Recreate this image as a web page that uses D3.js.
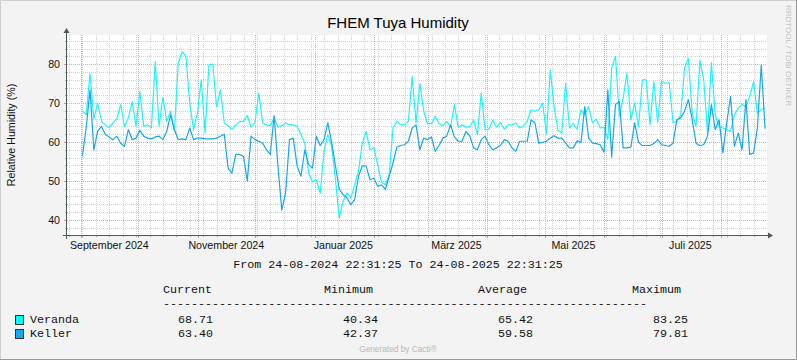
<!DOCTYPE html>
<html>
<head>
<meta charset="utf-8">
<script src="https://cdn.jsdelivr.net/npm/d3@7/dist/d3.min.js"></script>
<style>
  html, body { margin: 0; padding: 0; background: #f3f3f3; }
  svg { display: block; }
</style>
</head>
<body>
<svg id="chart" width="797" height="360"></svg>
<script>
// sampled every 2 days starting at 24-08-2024 22:31:25
const startTime = Date.UTC(2024, 7, 24, 22, 31, 25);
const endTime = Date.UTC(2025, 7, 24, 22, 31, 25);
const stepDays = 2;

const veranda = [null, null, null, null, 68, 67, 77.5, 66, 70, 65.3, 64.4, 63.6, 64.9, 66, 69.6, 64, 66.2, 70.4, 64, 73,
  64, 64.4, 63.6, 80.7, 64, 71.5, 65.3, 67.9, 62.7, 80.3, 83.2, 82.1, 70, 63.2, 67.4, 76, 62.3, 79.8, 80, 69,
  73.4, 64.9, 64.2, 63.2, 64.4, 65.3, 65.3, 66.8, 63.8, 64.9, 72.6, 64.9, 64.4, 64.2, 66.2, 63.8, 64.2, 64.9, 64.4, 64.4,
  64, 61.9, 59.7, 52, 49.7, 50.3, 46.8, 57.6, 61.9, 58.9, 50.3, 40.5, 44.8, 46.9, 45.6, 49, 52.5, 59.7, 62.7, 58,
  58.5, 54.2, 49.7, 49, 51.6, 63.6, 65.3, 64.4, 64.4, 65.3, 76.8, 64.9, 75, 67.9, 64.7, 64.7, 66.6, 64.7, 64.2, 65.3,
  63.8, 69.6, 63.8, 64.4, 63.8, 63.8, 65.7, 61.9, 72.6, 63.2, 63.2, 65.6, 63.8, 65, 63.3, 64.4, 64.4, 64.9, 63.6, 64.2,
  65.3, 68.3, 67.9, 68.3, 70, 62.1, 78.5, 69.1, 63, 62.3, 75.1, 63.6, 64.7, 63.3, 68.3, 67, 69.1, 64.9, 65.9, 63.6,
  63.8, 60.6, 79, 82.1, 66.6, 71.3, 77.7, 65.7, 70, 63.8, 76, 76, 64.4, 75.6, 65, 75.6, 75.1, 75.3, 65, 65.3,
  67, 79, 81.5, 67.4, 64, 80.9, 76, 62.3, 80.4, 67, 64, 63.6, 63.2, 62.7, 67, 68.7, 69.6, 69.1, 71.7, 75.5,
  67.4, 68.3, 68.7];

const keller = [null, null, null, null, 56.3, 63.6, 73.4, 58, 62.8, 64, 61.9, 61.3, 60.6, 61.5, 59.7, 58.9, 63.2, 60.6, 61, 63,
  61.5, 61, 60.8, 61.3, 61.5, 60.6, 62.7, 67, 63.2, 60.6, 60.8, 60.6, 63.6, 60.6, 61, 61, 60.8, 60.8, 60.8, 61,
  61.5, 62, 53.3, 52, 56.8, 56.8, 56.3, 50, 61.5, 60.6, 60.2, 59.7, 58, 56.8, 66.8, 53.8, 42.5, 47, 60.6, 61,
  53.8, 51.2, 58, 54.2, 53.3, 61.5, 59.1, 60.6, 64.9, 59.9, 53.8, 47.8, 46.5, 45.6, 43.9, 45.2, 51.2, 53.9, 53.8, 50.3,
  50.7, 48.6, 49, 47.8, 51.2, 54.6, 58.7, 59.1, 59.3, 60.2, 63.6, 64.4, 58, 61, 60.6, 61.3, 57.6, 59.1, 61, 61.5,
  64.4, 61.3, 60.2, 60.2, 62.7, 61.6, 58.5, 58, 60.6, 61.5, 59.3, 58, 58.5, 59.1, 60.6, 60.2, 58.5, 57.6, 60.2, 60.2,
  60.2, 65.7, 64.9, 59.7, 59.9, 60.2, 61, 61.6, 61, 61, 59.7, 58.5, 58.5, 60.3, 59.9, 69.1, 61, 59.7, 59.6, 59.3,
  57.4, 73.4, 56.1, 69.6, 70.4, 58.5, 58.5, 58.7, 64.9, 59.9, 59.1, 59.1, 59.1, 59.6, 60.6, 59.3, 59.1, 58.9, 59.7, 65.7,
  66.2, 67.9, 70.9, 65.7, 59.7, 59.1, 59.3, 61.5, 69.6, 63.2, 65.7, 57.2, 64.9, 71.7, 58.9, 62.3, 58, 70.9, 56.8, 57.2,
  63.6, 79.8, 63.4];

const yTicks = [40, 50, 60, 70, 80];
const monthLabels = ["2024-09-01", "2024-11-01", "2025-01-01", "2025-03-01", "2025-05-01", "2025-07-01"];
const monthTexts = ["September 2024", "November 2024", "Januar 2025", "März 2025", "Mai 2025", "Juli 2025"];

const legendNames = ["Veranda", "Keller"];
const legendColors = ["#00ffff", "#19a8ee"];
const lineColors = ["#1ff3ff", "#18a6ec"];
const current = ["68.71", "63.40"];
const minimum = ["40.34", "42.37"];
const average = ["65.42", "59.58"];
const maximum = ["83.25", "79.81"];

const W = 797, H = 360;
const plot = { left: 67, right: 767, top: 35, bottom: 235 };
const sans = "'Liberation Sans', Arial, sans-serif";
const mono = "'Liberation Mono', 'Courier New', monospace";

const svg = d3.select("#chart");

// background + shaded border
svg.append("rect").attr("width", W).attr("height", H).attr("fill", "#f3f3f3");
svg.append("path").attr("d", `M0.5,${H} V0.5 H${W}`).attr("fill", "none").attr("stroke", "#cfcfcf");
svg.append("path").attr("d", `M0,${H - 0.5} H${W - 0.5} V0`).attr("fill", "none").attr("stroke", "#9a9a9a");

svg.append("rect")
  .attr("x", plot.left).attr("y", plot.top)
  .attr("width", plot.right - plot.left).attr("height", plot.bottom - plot.top)
  .attr("fill", "#ffffff");

const x = d3.scaleUtc().domain([startTime, endTime]).range([plot.left, plot.right]);
const y = d3.scaleLinear().domain([36.1, 87.5]).range([plot.bottom, plot.top]);

const grid = svg.append("g").attr("shape-rendering", "crispEdges");
const minorColor = "#d2d2d2";
const majorColor = "#eaa6a6";

// horizontal grid: minor every 2, major every 10
d3.range(38, 88, 2).filter(v => v % 10 !== 0).forEach(v => {
  grid.append("line")
    .attr("x1", plot.left).attr("x2", plot.right)
    .attr("y1", Math.round(y(v)) + 0.5).attr("y2", Math.round(y(v)) + 0.5)
    .attr("stroke", minorColor).attr("stroke-dasharray", "1,1");
  grid.append("line")
    .attr("x1", plot.left - 2).attr("x2", plot.left)
    .attr("y1", Math.round(y(v)) + 0.5).attr("y2", Math.round(y(v)) + 0.5)
    .attr("stroke", "#a8a8a8");
});

// vertical grid: minor weekly (mondays), major monthly
const weeks = d3.utcMonday.range(new Date(startTime), new Date(endTime));
const months = d3.utcMonth.range(new Date(startTime), new Date(endTime));
weeks.forEach(d => {
  const px = Math.round(x(d)) + 0.5;
  grid.append("line")
    .attr("x1", px).attr("x2", px)
    .attr("y1", plot.top).attr("y2", plot.bottom)
    .attr("stroke", minorColor).attr("stroke-dasharray", "1,1");
  grid.append("line")
    .attr("x1", px).attr("x2", px)
    .attr("y1", plot.bottom).attr("y2", plot.bottom + 2)
    .attr("stroke", "#a8a8a8");
});
months.forEach(d => {
  const px = Math.round(x(d)) + 0.5;
  grid.append("line")
    .attr("x1", px).attr("x2", px)
    .attr("y1", plot.top).attr("y2", plot.bottom)
    .attr("stroke", majorColor).attr("stroke-dasharray", "1,1");
  grid.append("line")
    .attr("x1", px).attr("x2", px)
    .attr("y1", plot.bottom).attr("y2", plot.bottom + 3)
    .attr("stroke", "#d89090");
});
yTicks.forEach(v => {
  const py = Math.round(y(v)) + 0.5;
  grid.append("line")
    .attr("x1", plot.left).attr("x2", plot.right)
    .attr("y1", py).attr("y2", py)
    .attr("stroke", majorColor).attr("stroke-dasharray", "1,1");
  grid.append("line")
    .attr("x1", plot.left - 3).attr("x2", plot.left)
    .attr("y1", py).attr("y2", py)
    .attr("stroke", "#d89090");
});

// data lines
const line = d3.line()
  .defined(d => d[1] !== null)
  .x(d => x(d[0]))
  .y(d => y(d[1]));

[veranda, keller].forEach((series, k) => {
  const pts = series.map((v, i) => [startTime + i * stepDays * 86400000, v]);
  svg.append("path")
    .attr("d", line(pts))
    .attr("fill", "none")
    .attr("stroke", lineColors[k])
    .attr("stroke-width", 1.2)
    .attr("stroke-linejoin", "round");
});

// axes with arrows
const axisColor = "#4b5a56";
svg.append("line")
  .attr("x1", plot.left - 4).attr("x2", plot.right + 2)
  .attr("y1", plot.bottom + 0.5).attr("y2", plot.bottom + 0.5)
  .attr("stroke", axisColor).attr("shape-rendering", "crispEdges");
svg.append("line")
  .attr("x1", plot.left - 0.5).attr("x2", plot.left - 0.5)
  .attr("y1", plot.bottom + 4).attr("y2", plot.top - 3)
  .attr("stroke", axisColor).attr("shape-rendering", "crispEdges");
svg.append("path")
  .attr("d", `M${plot.right + 1},${plot.bottom - 2.5} L${plot.right + 6},${plot.bottom + 0.5} L${plot.right + 1},${plot.bottom + 3.5} Z`)
  .attr("fill", axisColor);
svg.append("path")
  .attr("d", `M${plot.left - 3.5},${plot.top - 2} L${plot.left - 0.5},${plot.top - 7} L${plot.left + 2.5},${plot.top - 2} Z`)
  .attr("fill", axisColor);

// tick labels
yTicks.forEach(v => {
  svg.append("text")
    .attr("x", 60).attr("y", y(v) + 3.8)
    .attr("text-anchor", "end")
    .attr("font-family", sans).attr("font-size", 10.67)
    .attr("fill", "#111")
    .text(v);
});
monthLabels.forEach((m, i) => {
  const t = Date.parse(m + "T00:00:00Z") + 15 * 86400000;
  svg.append("text")
    .attr("x", x(t)).attr("y", 249)
    .attr("text-anchor", "middle")
    .attr("font-family", sans).attr("font-size", 10.67)
    .attr("fill", "#111")
    .text(monthTexts[i]);
});

// titles
svg.append("text")
  .attr("x", 398).attr("y", 28)
  .attr("text-anchor", "middle")
  .attr("font-family", sans).attr("font-size", 15)
  .attr("fill", "#000")
  .text("FHEM Tuya Humidity");

svg.append("text")
  .attr("transform", `translate(14.5,${(plot.top + plot.bottom) / 2}) rotate(-90)`)
  .attr("text-anchor", "middle")
  .attr("font-family", sans).attr("font-size", 10.67)
  .attr("fill", "#111")
  .text("Relative Humidity (%)");

svg.append("text")
  .attr("transform", "translate(785.5,5) rotate(90)")
  .attr("font-family", sans).attr("font-size", 8)
  .attr("fill", "#c2c2c2")
  .text("RRDTOOL / TOBI OETIKER");

// legend
const legendFont = 11.7;
svg.append("text")
  .attr("x", 398).attr("y", 267.5)
  .attr("text-anchor", "middle")
  .attr("font-family", mono).attr("font-size", legendFont)
  .attr("fill", "#111")
  .text("From 24-08-2024 22:31:25 To 24-08-2025 22:31:25");

const headers = ["Current", "Minimum", "Average", "Maximum"];
const headerX = [163, 324, 478, 632];
headers.forEach((h, i) => {
  svg.append("text")
    .attr("x", headerX[i]).attr("y", 293)
    .attr("font-family", mono).attr("font-size", legendFont)
    .attr("fill", "#111")
    .text(h);
});
svg.append("text")
  .attr("x", 163).attr("y", 306.6)
  .attr("font-family", mono).attr("font-size", legendFont)
  .attr("fill", "#111")
  .text("-".repeat(69));

const valueX = [178, 343, 498, 653];
const rowY = [322.5, 336.5];
legendNames.forEach((name, k) => {
  svg.append("rect")
    .attr("x", 15.5).attr("y", rowY[k] - 7)
    .attr("width", 8).attr("height", 9)
    .attr("fill", legendColors[k])
    .attr("stroke", "#333").attr("stroke-width", 1)
    .attr("shape-rendering", "crispEdges");
  svg.append("text")
    .attr("x", 30).attr("y", rowY[k])
    .attr("font-family", mono).attr("font-size", legendFont)
    .attr("fill", "#111")
    .text(name);
  [current[k], minimum[k], average[k], maximum[k]].forEach((v, j) => {
    svg.append("text")
      .attr("x", valueX[j]).attr("y", rowY[k])
      .attr("font-family", mono).attr("font-size", legendFont)
      .attr("fill", "#111")
      .text(v);
  });
});

svg.append("text")
  .attr("x", 398).attr("y", 352)
  .attr("text-anchor", "middle")
  .attr("font-family", sans).attr("font-size", 8.3)
  .attr("fill", "#b8b8b8")
  .text("Generated by Cacti®");
</script>
</body>
</html>
